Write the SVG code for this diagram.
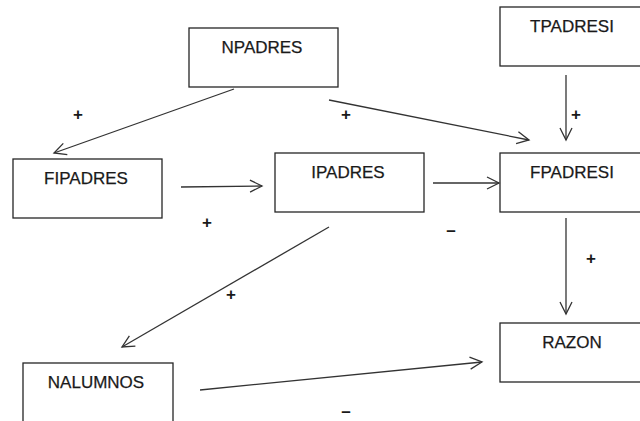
<svg xmlns="http://www.w3.org/2000/svg" width="640" height="421" viewBox="0 0 640 421">
<style>
.box{fill:#fff;stroke:#262626;stroke-width:1.3}
.lbl{font-family:"Liberation Sans",Arial,sans-serif;font-size:17px;fill:#1a1a1a;text-anchor:middle;stroke:#1a1a1a;stroke-width:0.25}
.sign{font-family:"Liberation Sans",Arial,sans-serif;font-size:17px;font-weight:bold;fill:#1a1a1a;text-anchor:middle}
.edge{fill:none;stroke:#333;stroke-width:1.3;marker-end:url(#arr)}
</style>
<defs>
<marker id="arr" markerUnits="userSpaceOnUse" markerWidth="16" markerHeight="16" refX="13" refY="7" orient="auto" viewBox="0 0 16 14">
<path d="M1,1 L13,7 L1,13" fill="none" stroke="#333" stroke-width="1.3"/>
</marker>
</defs>
<rect width="640" height="421" fill="#fff"/>
<g id="NPADRES"><rect class="box" x="189" y="28" width="149" height="59"/><text class="lbl" x="262" y="53">NPADRES</text></g>
<g id="TPADRESI"><rect class="box" x="500" y="7" width="145" height="59"/><text class="lbl" x="572" y="32">TPADRESI</text></g>
<g id="FIPADRES"><rect class="box" x="13" y="159" width="149" height="59"/><text class="lbl" x="86" y="184">FIPADRES</text></g>
<g id="IPADRES"><rect class="box" x="275" y="153" width="149" height="59"/><text class="lbl" x="348" y="178">IPADRES</text></g>
<g id="FPADRESI"><rect class="box" x="500" y="153" width="145" height="59"/><text class="lbl" x="572" y="178">FPADRESI</text></g>
<g id="RAZON"><rect class="box" x="500" y="323" width="145" height="59"/><text class="lbl" x="572" y="348">RAZON</text></g>
<g id="NALUMNOS"><rect class="box" x="23" y="363" width="150" height="70"/><text class="lbl" x="96" y="388">NALUMNOS</text></g>
<g id="connectors">
<line class="edge" x1="234" y1="89" x2="54" y2="153"/>
<line class="edge" x1="329" y1="100" x2="529" y2="140"/>
<line class="edge" x1="566" y1="75" x2="566" y2="140"/>
<line class="edge" x1="181" y1="187" x2="262" y2="186"/>
<line class="edge" x1="433" y1="183" x2="499" y2="183"/>
<line class="edge" x1="566" y1="218" x2="566" y2="314"/>
<line class="edge" x1="329" y1="227" x2="122" y2="347"/>
<line class="edge" x1="200" y1="390" x2="482" y2="362"/>
</g>
<g id="signs">
<text class="sign" x="78" y="120">+</text>
<text class="sign" x="346" y="120">+</text>
<text class="sign" x="576" y="120">+</text>
<text class="sign" x="207" y="228">+</text>
<text class="sign" x="451" y="236">–</text>
<text class="sign" x="591" y="264">+</text>
<text class="sign" x="231" y="300">+</text>
<text class="sign" x="346" y="417">–</text>
</g>
</svg>
